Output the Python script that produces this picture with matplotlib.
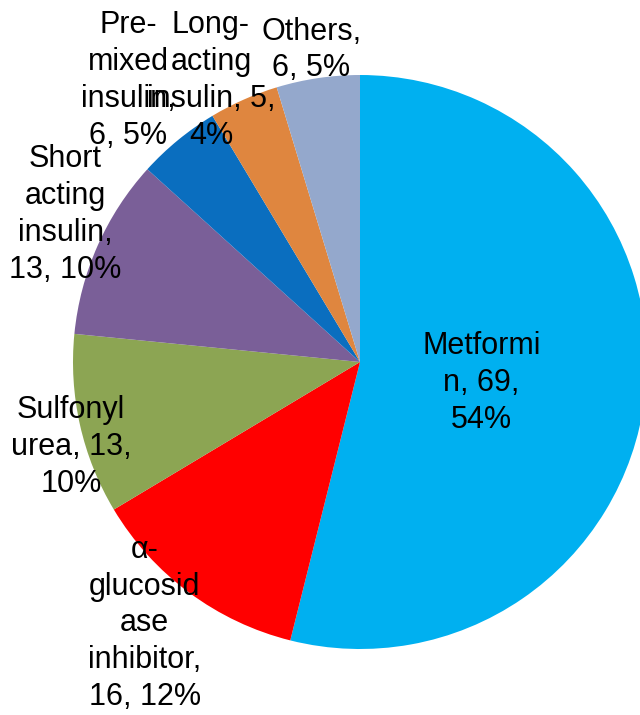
import numpy as np
import matplotlib
matplotlib.use("Agg")
import matplotlib.pyplot as plt

# Drug classes prescribed, counts per class (clockwise from 12 o'clock)
drugs = ["Metformin", "α-glucosidase inhibitor", "Sulfonylurea",
         "Short acting insulin", "Pre-mixed insulin", "Long-acting insulin", "Others"]
counts = [69, 16, 13, 13, 6, 5, 6]
label_lines = [
    ["Metformi", "n, {n},", "{p}%"],
    ["α-", "glucosid", "ase", "inhibitor,", "{n}, {p}%"],
    ["Sulfonyl", "urea, {n},", "{p}%"],
    ["Short", "acting", "insulin,", "{n}, {p}%"],
    ["Pre-", "mixed", "insulin,", "{n}, {p}%"],
    ["Long-", "acting", "insulin, {n},", "{p}%"],
    ["Others,", "{n}, {p}%"],
]
colors = ["#00B0F0", "#FF0000", "#8CA553", "#7A5F98", "#0A6EBF", "#DF863F", "#94A8CC"]

# label placement: distance from centre (in radii) and angular nudge (deg)
label_dist = [0.43, 1.18, 1.05, 1.15, 1.27, 1.11, 1.10]
label_nudge = [-2.8, -2.9, 3.7, -2.7, 0.1, 4.0, 0.4]

plt.rcParams['font.family'] = ['Liberation Sans', 'DejaVu Sans']

fig = plt.figure(figsize=(6.4, 7.15), dpi=100)
ax = fig.add_axes([0, 0, 1, 1])
R = 287.0

wedges, _ = ax.pie(counts, colors=colors, startangle=90, counterclock=False,
                   radius=1.0, wedgeprops=dict(linewidth=0))

total = sum(counts)
for w, lines, n, d, nudge in zip(wedges, label_lines, counts, label_dist, label_nudge):
    pct = int(round(100.0 * n / total))
    # the 12.5% slice is shown as 12
    if n == 16:
        pct = 12
    text = "\n".join(l.format(n=n, p=pct) for l in lines)
    mid = np.deg2rad((w.theta1 + w.theta2) / 2 + nudge)
    ax.text(d * np.cos(mid), d * np.sin(mid), text, ha='center', va='center',
            fontsize=22, linespacing=1.3, color='black')

# pie() resets the view, so fix the frame afterwards
ax.set_xlim(-360 / R, 280 / R)
ax.set_ylim(-353 / R, 362 / R)
ax.set_aspect('equal')
ax.axis('off')

fig.savefig("out.png", dpi=100)
